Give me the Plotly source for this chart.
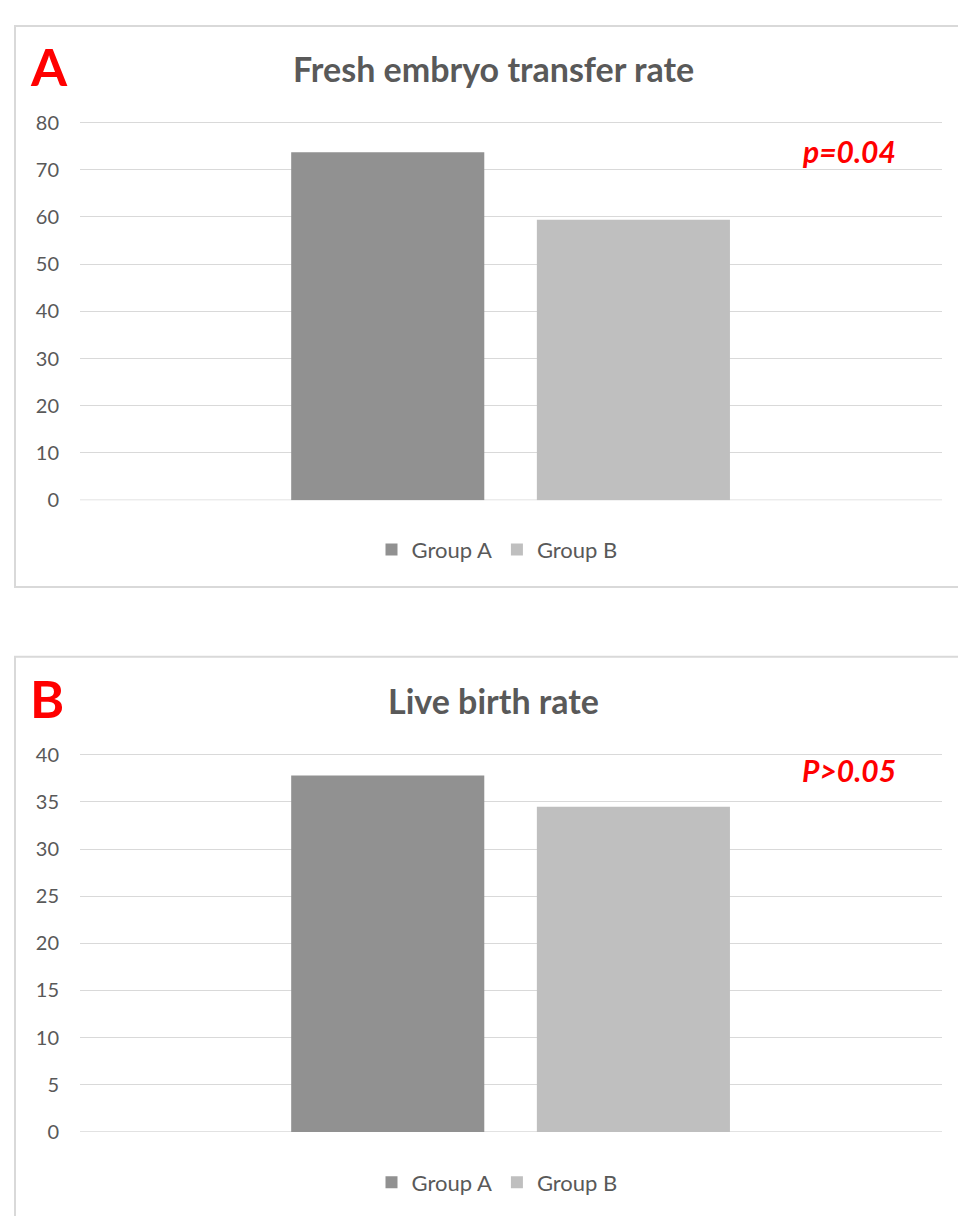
import plotly.graph_objects as go

# ---- data ----
groups = ["Group A", "Group B"]
fresh_transfer_rate = [73.7, 59.4]
live_birth_rate = [37.8, 34.5]
panel_titles = ["Fresh embryo transfer rate", "Live birth rate"]
panel_letters = ["A", "B"]
p_labels = ["p=0.04", "P>0.05"]
colors = ["#919191", "#bfbfbf"]

# page body has an 8px margin; size the figure so the page fits the window
OFF = 8
W, H = 966 - 2 * OFF, 1224 - 2 * OFF
FONT = "Lato"
GRAY = "#595959"


def px_x(x):
    return (x - OFF) / W


def px_y(y):
    return 1 - (y - OFF) / H


fig = go.Figure()

bar_w = 0.224
offsets = [-0.255, 0.030]
cat = ["rate"]

for i, g in enumerate(groups):
    fig.add_trace(go.Bar(x=cat, y=[fresh_transfer_rate[i]], name=g,
                         marker=dict(color=colors[i], line=dict(width=0)),
                         width=bar_w, offset=offsets[i],
                         xaxis="x", yaxis="y", legend="legend"))
for i, g in enumerate(groups):
    fig.add_trace(go.Bar(x=cat, y=[live_birth_rate[i]], name=g,
                         marker=dict(color=colors[i], line=dict(width=0)),
                         width=bar_w, offset=offsets[i],
                         xaxis="x2", yaxis="y2", legend="legend2"))

xdom = [px_x(80), px_x(942)]
common_x = dict(domain=xdom, showticklabels=False, showgrid=False, zeroline=False,
                range=[-0.5, 0.5], fixedrange=True)
common_y = dict(showgrid=True, gridcolor="#d9d9d9", gridwidth=1, zeroline=False,
                tickfont=dict(family=FONT, size=20, color=GRAY), ticks="",
                ticklabelstandoff=20, showline=False)

legend_common = dict(orientation="h", x=px_x(497), xanchor="center", yanchor="middle",
                     font=dict(family=FONT, size=22, color=GRAY), itemwidth=30,
                     tracegroupgap=0, bgcolor="rgba(0,0,0,0)")

fig.update_layout(
    width=W, height=H,
    margin=dict(l=0, r=0, t=0, b=0),
    paper_bgcolor="white", plot_bgcolor="white",
    barmode="overlay",
    showlegend=True,
    xaxis=dict(**common_x, anchor="y"),
    xaxis2=dict(**common_x, anchor="y2"),
    yaxis=dict(**common_y, domain=[px_y(497.5), px_y(111.1)], range=[0, 80.3],
               tickvals=[0, 10, 20, 30, 40, 50, 60, 70, 80], anchor="x"),
    yaxis2=dict(**common_y, domain=[px_y(1141.5), px_y(755.6)], range=[0, 40.15],
                tickvals=[0, 5, 10, 15, 20, 25, 30, 35, 40], anchor="x2"),
    legend=dict(**legend_common, y=px_y(548)),
    legend2=dict(**legend_common, y=px_y(1193)),
)

# axis baselines
for yref, xref in (("y", "x"), ("y2", "x2")):
    fig.add_shape(type="line", xref=xref + " domain", yref=yref, x0=0, x1=1, y0=0, y1=0,
                  line=dict(color="#d9d9d9", width=1.5), layer="below")

# panel borders
fig.add_shape(type="rect", xref="paper", yref="paper",
              x0=px_x(15), x1=px_x(980), y0=px_y(586), y1=px_y(14),
              line=dict(color="#d9d9d9", width=2))
fig.add_shape(type="rect", xref="paper", yref="paper",
              x0=px_x(15), x1=px_x(980), y0=px_y(1240), y1=px_y(657),
              line=dict(color="#d9d9d9", width=2))

title_y = [57, 702]
letter_y = [55, 699]
p_y = [142, 773]
for i in range(2):
    fig.add_annotation(text=f"<b>{panel_titles[i]}</b>", xref="paper", yref="paper",
                       x=px_x(493), y=px_y(title_y[i]), xanchor="center", yanchor="middle",
                       showarrow=False, font=dict(family=FONT, size=34, color=GRAY))
    fig.add_annotation(text=f"<b>{panel_letters[i]}</b>", xref="paper", yref="paper",
                       x=px_x(28), y=px_y(letter_y[i]), xanchor="left", yanchor="middle",
                       showarrow=False, font=dict(family=FONT, size=52, color="#ff0000"))
    fig.add_annotation(text=f"<b><i>{p_labels[i]}</i></b>", xref="paper", yref="paper",
                       x=px_x(849), y=px_y(p_y[i]), xanchor="center", yanchor="middle",
                       showarrow=False, font=dict(family=FONT, size=30, color="#ff0000"))

fig.write_html("out.html")
